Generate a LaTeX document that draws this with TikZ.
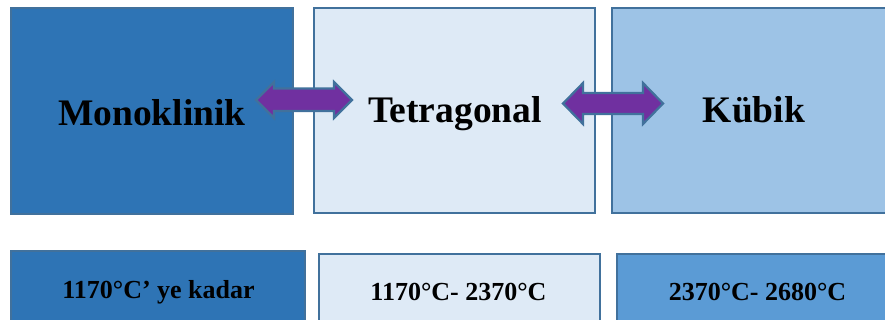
\documentclass[tikz,border=0pt]{standalone}
\usepackage{fontspec}
\setmainfont{Liberation Serif}
\definecolor{edgeblue}{HTML}{41719C}
\definecolor{darkblue}{HTML}{2E74B5}
\definecolor{paleblue}{HTML}{DEEAF6}
\definecolor{lightblue}{HTML}{9DC3E6}
\definecolor{midblue}{HTML}{5B9BD5}
\definecolor{arrowpurple}{HTML}{7030A0}
\begin{document}
\begin{tikzpicture}[x=1pt,y=-1pt,
  phasebox/.style={draw=edgeblue, line width=2.6pt, rectangle, inner sep=0pt},
  bigtext/.style={anchor=base, inner sep=0pt, font=\bfseries\fontsize{37.5}{40}\selectfont},
  smalltext/.style={anchor=base, inner sep=0pt, font=\bfseries\fontsize{26}{30}\selectfont},
  phasearrow/.style={draw=edgeblue, line width=2.2pt, fill=arrowpurple, line join=miter}]
\useasboundingbox (0,0) rectangle (885,320);
\begin{scope}
\clip (0,0) rectangle (885,320);
% phase boxes
\node[phasebox, fill=darkblue, minimum width=282pt, minimum height=206pt] (mono) at (152,111) {};
\node[phasebox, fill=paleblue, minimum width=281pt, minimum height=205pt] (tetra) at (454.5,110.5) {};
\node[phasebox, fill=lightblue, minimum width=285pt, minimum height=205pt] (kub) at (754.5,110.5) {};
% temperature boxes
\node[phasebox, fill=darkblue, minimum width=294pt, minimum height=80pt] (tmono) at (158,291) {};
\node[phasebox, fill=paleblue, minimum width=281pt, minimum height=80pt] (ttetra) at (459.5,294) {};
\node[phasebox, fill=midblue, minimum width=282pt, minimum height=80pt] (tkub) at (758,294) {};
% transformation arrows
\draw[phasearrow] (256,100) -- (274,82) -- (274,88.5) -- (334,88.5) -- (334,82) -- (352,100)
  -- (334,118) -- (334,111) -- (274,111) -- (274,118) -- cycle;
\draw[phasearrow] (563,103.5) -- (583,83) -- (583,93) -- (643,93) -- (643,83) -- (663,103.5)
  -- (643,124) -- (643,114) -- (583,114) -- (583,124) -- cycle;
% labels
\node[bigtext] (lmono) at ([yshift=-15pt]mono.center) {Monoklinik};
\node[bigtext] (ltetra) at (455,123) {Tetragonal};
\node[bigtext] (lkub) at (754,123) {Kübik};
\node[smalltext] (ltmono) at (158.5,298) {1170°C’ ye kadar};
\node[smalltext] (lttetra) at (458.5,300) {1170°C- 2370°C};
\node[smalltext] (ltkub) at (757.5,300) {2370°C- 2680°C};
\end{scope}
\end{tikzpicture}
\end{document}
